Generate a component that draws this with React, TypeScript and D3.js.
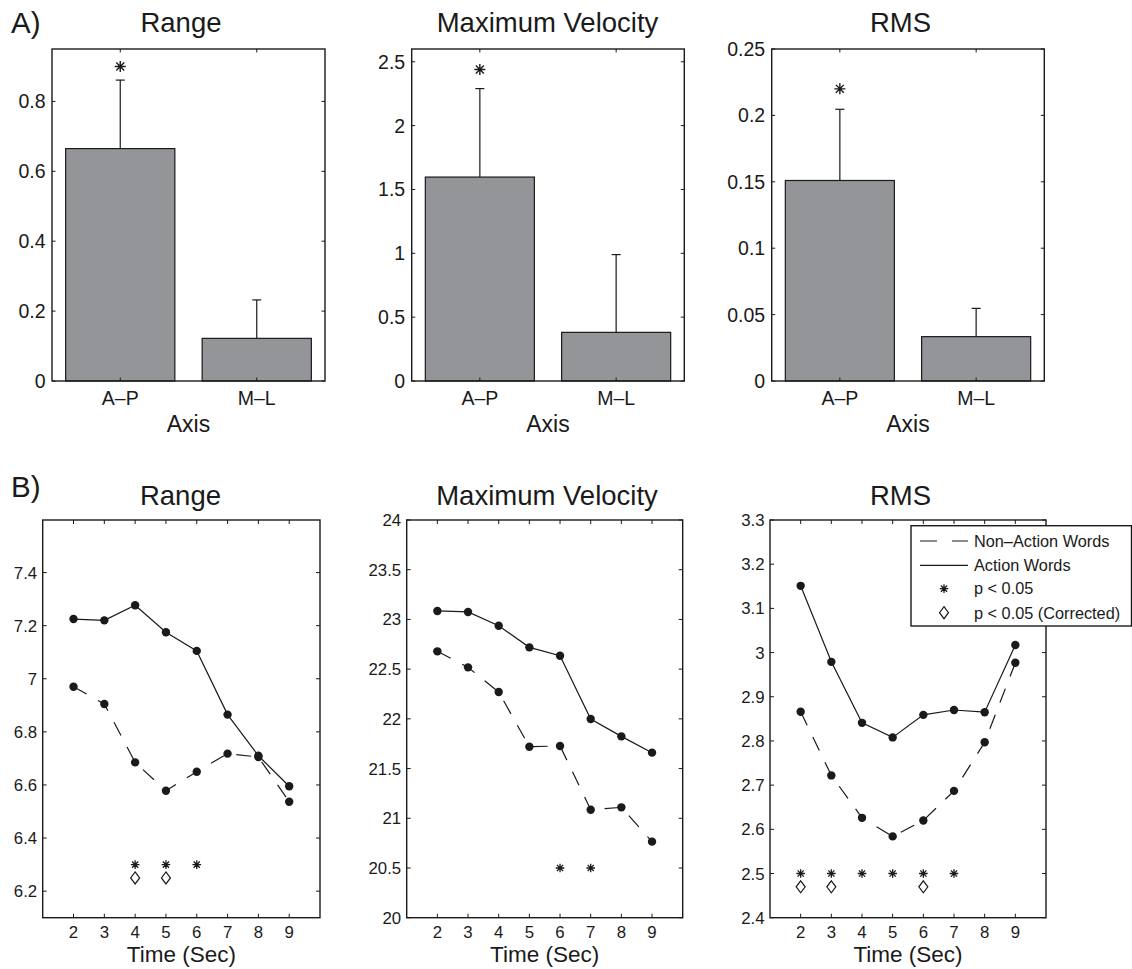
import React from "react";
import * as d3 from "d3";

// ---------- Data ----------
const barCategories = ["A–P", "M–L"];
const rangeMeans = [0.665, 0.122];
const rangeErrors = [0.196, 0.11];
const velocityMeans = [1.597, 0.381];
const velocityErrors = [0.693, 0.609];
const rmsMeans = [0.151, 0.0334];
const rmsErrors = [0.0536, 0.0213];
const barStarLevels = [0.9, 2.44, 0.22];

const rangeBarTicks = [0, 0.2, 0.4, 0.6, 0.8];
const velocityBarTicks = [0, 0.5, 1, 1.5, 2, 2.5];
const rmsBarTicks = [0, 0.05, 0.1, 0.15, 0.2, 0.25];

const timeSec = [2, 3, 4, 5, 6, 7, 8, 9];
const rangeAction = [7.225, 7.22, 7.277, 7.175, 7.105, 6.865, 6.71, 6.595];
const rangeNonAction = [6.97, 6.905, 6.685, 6.578, 6.65, 6.718, 6.705, 6.537];
const velocityAction = [23.085, 23.075, 22.937, 22.719, 22.635, 21.998, 21.824, 21.66];
const velocityNonAction = [22.679, 22.518, 22.27, 21.72, 21.727, 21.086, 21.11, 20.765];
const rmsAction = [3.151, 2.979, 2.841, 2.808, 2.859, 2.87, 2.865, 3.017];
const rmsNonAction = [2.866, 2.722, 2.626, 2.584, 2.62, 2.687, 2.797, 2.977];

const rangeStarTimes = [4, 5, 6];
const rangeDiamondTimes = [4, 5];
const velocityStarTimes = [6, 7];
const velocityDiamondTimes: number[] = [];
const rmsStarTimes = [2, 3, 4, 5, 6, 7];
const rmsDiamondTimes = [2, 3, 6];

const rangeLineTicks = [6.2, 6.4, 6.6, 6.8, 7, 7.2, 7.4];
const velocityLineTicks = [20, 20.5, 21, 21.5, 22, 22.5, 23, 23.5, 24];
const rmsLineTicks = [2.4, 2.5, 2.6, 2.7, 2.8, 2.9, 3, 3.1, 3.2, 3.3];

const legendLabels = ["Non–Action Words", "Action Words", "p < 0.05", "p < 0.05 (Corrected)"];

// ---------- Helpers ----------
const FONT = "'Liberation Sans', Arial, Helvetica, sans-serif";
const INK = "#1a1a1a";
const fmt = (v: number) => String(+v.toFixed(4));

const starPath = (cx: number, cy: number, s: number) => {
  const d = s * 0.72;
  return `M${cx - s},${cy}H${cx + s}M${cx},${cy - s}V${cy + s}M${cx - d},${cy - d}L${cx + d},${cy + d}M${cx - d},${cy + d}L${cx + d},${cy - d}`;
};
const diamondPath = (cx: number, cy: number, w: number, h: number) =>
  `M${cx},${cy - h}L${cx + w},${cy}L${cx},${cy + h}L${cx - w},${cy}Z`;

type FrameProps = {
  x: d3.ScaleLinear<number, number>;
  y: d3.ScaleLinear<number, number>;
  xTicks: number[];
  yTicks: number[];
  tick: number;
};

function Frame({ x, y, xTicks, yTicks, tick }: FrameProps) {
  const [x0, x1] = x.range();
  const [y0, y1] = y.range(); // y0 bottom, y1 top
  return (
    <g>
      {xTicks.map((t, i) => (
        <g key={"xt" + i} stroke={INK} strokeWidth={1}>
          <line x1={x(t)} x2={x(t)} y1={y0} y2={y0 - tick} />
          <line x1={x(t)} x2={x(t)} y1={y1} y2={y1 + tick} />
        </g>
      ))}
      {yTicks.map((t, i) => (
        <g key={"yt" + i} stroke={INK} strokeWidth={1}>
          <line x1={x0} x2={x0 + tick} y1={y(t)} y2={y(t)} />
          <line x1={x1} x2={x1 - tick} y1={y(t)} y2={y(t)} />
        </g>
      ))}
      <rect x={x0} y={y1} width={x1 - x0} height={y0 - y1} fill="none" stroke={INK} strokeWidth={1.4} />
    </g>
  );
}

type BarPanelProps = {
  left: number;
  right: number;
  title: string;
  titleX: number;
  means: number[];
  errors: number[];
  yMax: number;
  yTicks: number[];
  starLevel: number;
};

function BarPanel({ left, right, title, titleX, means, errors, yMax, yTicks, starLevel }: BarPanelProps) {
  const top = 49;
  const bottom = 381;
  const x = d3.scaleLinear().domain([0.5, 2.5]).range([left, right]);
  const y = d3.scaleLinear().domain([0, yMax]).range([bottom, top]);
  const bw = 0.8;
  return (
    <g>
      <text x={titleX} y={32} textAnchor="middle" fontSize={27.5} fill={INK}>{title}</text>
      {means.map((m, i) => {
        const cx = x(i + 1);
        const topErr = y(m + errors[i]);
        return (
          <g key={i}>
            <line x1={cx} x2={cx} y1={y(m)} y2={topErr} stroke={INK} strokeWidth={1.2} />
            <line x1={cx - 4.5} x2={cx + 4.5} y1={topErr} y2={topErr} stroke={INK} strokeWidth={1.2} />
            <rect
              x={x(i + 1 - bw / 2)}
              y={y(m)}
              width={x(i + 1 + bw / 2) - x(i + 1 - bw / 2)}
              height={y(0) - y(m)}
              fill="#939598"
              stroke={INK}
              strokeWidth={1.2}
            />
          </g>
        );
      })}
      <path d={starPath(x(1), y(starLevel), 5.5)} stroke={INK} strokeWidth={1.4} fill="none" />
      <Frame x={x} y={y} xTicks={[1, 2]} yTicks={yTicks} tick={3.5} />
      {yTicks.map((t, i) => (
        <text key={i} x={left - 6.5} y={y(t)} dy="0.36em" textAnchor="end" fontSize={19.5} fill={INK}>
          {fmt(t)}
        </text>
      ))}
      {barCategories.map((c, i) => (
        <text key={c} x={x(i + 1)} y={405} textAnchor="middle" fontSize={19.5} fill={INK}>{c}</text>
      ))}
      <text x={(left + right) / 2} y={432} textAnchor="middle" fontSize={23} fill={INK}>Axis</text>
    </g>
  );
}

type LinePanelProps = {
  left: number;
  right: number;
  title: string;
  titleX: number;
  action: number[];
  nonAction: number[];
  yDomain: [number, number];
  yTicks: number[];
  stars: number[];
  diamonds: number[];
  starY: number;
  diamondY: number;
  legend?: boolean;
};

function LinePanel(p: LinePanelProps) {
  const top = 520;
  const bottom = 917.7;
  const x = d3.scaleLinear().domain([1, 10]).range([p.left, p.right]);
  const y = d3.scaleLinear().domain(p.yDomain).range([bottom, top]);
  const line = d3
    .line<number>()
    .x((_, i) => x(timeSec[i]))
    .y((d) => y(d));
  return (
    <g>
      <text x={p.titleX} y={505} textAnchor="middle" fontSize={27.5} fill={INK}>{p.title}</text>
      <path d={line(p.nonAction) || ""} fill="none" stroke={INK} strokeWidth={1.2} strokeDasharray="15 13" />
      <path d={line(p.action) || ""} fill="none" stroke={INK} strokeWidth={1.2} />
      {p.nonAction.map((v, i) => (
        <circle key={"n" + i} cx={x(timeSec[i])} cy={y(v)} r={4.2} fill={INK} />
      ))}
      {p.action.map((v, i) => (
        <circle key={"a" + i} cx={x(timeSec[i])} cy={y(v)} r={4.2} fill={INK} />
      ))}
      {p.stars.map((t, i) => (
        <path key={"s" + i} d={starPath(x(t), y(p.starY), 4.3)} stroke={INK} strokeWidth={1.3} fill="none" />
      ))}
      {p.diamonds.map((t, i) => (
        <path key={"d" + i} d={diamondPath(x(t), y(p.diamondY), 4.5, 6)} stroke={INK} strokeWidth={1.2} fill="none" />
      ))}
      <Frame x={x} y={y} xTicks={timeSec} yTicks={p.yTicks} tick={4} />
      {p.yTicks.map((t, i) => (
        <text key={i} x={p.left - 5.5} y={y(t)} dy="0.36em" textAnchor="end" fontSize={16.8} fill={INK}>
          {fmt(t)}
        </text>
      ))}
      {timeSec.map((t) => (
        <text key={t} x={x(t)} y={938} textAnchor="middle" fontSize={16.8} fill={INK}>{t}</text>
      ))}
      <text x={(p.left + p.right) / 2} y={962} textAnchor="middle" fontSize={22.5} fill={INK}>Time (Sec)</text>
      {p.legend && <Legend />}
    </g>
  );
}

function Legend() {
  const bx = 911;
  const by = 525.7;
  const bw = 220.5;
  const bh = 100.3;
  const rows = [541, 565.3, 588.6, 612.7];
  return (
    <g>
      <rect x={bx} y={by} width={bw} height={bh} fill="#fff" stroke={INK} strokeWidth={1.4} />
      <line x1={920} x2={968} y1={rows[0]} y2={rows[0]} stroke={INK} strokeWidth={1.2} strokeDasharray="17 15" />
      <line x1={920} x2={968} y1={rows[1]} y2={rows[1]} stroke={INK} strokeWidth={1.2} />
      <path d={starPath(944, rows[2], 4.3)} stroke={INK} strokeWidth={1.3} fill="none" />
      <path d={diamondPath(944, rows[3], 4.5, 6)} stroke={INK} strokeWidth={1.2} fill="none" />
      {legendLabels.map((l, i) => (
        <text key={l} x={974} y={rows[i]} dy="0.36em" fontSize={16.3} fill={INK}>{l}</text>
      ))}
    </g>
  );
}

export default function App() {
  return (
    <svg
      width={1132}
      height={969}
      viewBox="0 0 1132 969"
      style={{ position: "absolute", left: 0, top: 0, background: "#fff" }}
      fontFamily={FONT}
    >
      <rect width={1132} height={969} fill="#fff" />
      <text x={11} y={33} fontSize={29.5} fill={INK}>A)</text>
      <text x={11} y={497} fontSize={29.5} fill={INK}>B)</text>

      <BarPanel left={52} right={325} title="Range" titleX={181} means={rangeMeans} errors={rangeErrors}
        yMax={0.95} yTicks={rangeBarTicks} starLevel={barStarLevels[0]} />
      <BarPanel left={411.7} right={684.3} title="Maximum Velocity" titleX={547.5} means={velocityMeans}
        errors={velocityErrors} yMax={2.6} yTicks={velocityBarTicks} starLevel={barStarLevels[1]} />
      <BarPanel left={771.7} right={1044.3} title="RMS" titleX={900.5} means={rmsMeans} errors={rmsErrors}
        yMax={0.25} yTicks={rmsBarTicks} starLevel={barStarLevels[2]} />

      <LinePanel left={42.7} right={320} title="Range" titleX={180.5} action={rangeAction}
        nonAction={rangeNonAction} yDomain={[6.1, 7.598]} yTicks={rangeLineTicks}
        stars={rangeStarTimes} diamonds={rangeDiamondTimes} starY={6.3} diamondY={6.25} />
      <LinePanel left={406.7} right={682.7} title="Maximum Velocity" titleX={547} action={velocityAction}
        nonAction={velocityNonAction} yDomain={[20, 24]} yTicks={velocityLineTicks}
        stars={velocityStarTimes} diamonds={velocityDiamondTimes} starY={20.5} diamondY={20.45} />
      <LinePanel left={770} right={1046} title="RMS" titleX={900.5} action={rmsAction}
        nonAction={rmsNonAction} yDomain={[2.4, 3.3]} yTicks={rmsLineTicks}
        stars={rmsStarTimes} diamonds={rmsDiamondTimes} starY={2.5} diamondY={2.47} legend />
    </svg>
  );
}
